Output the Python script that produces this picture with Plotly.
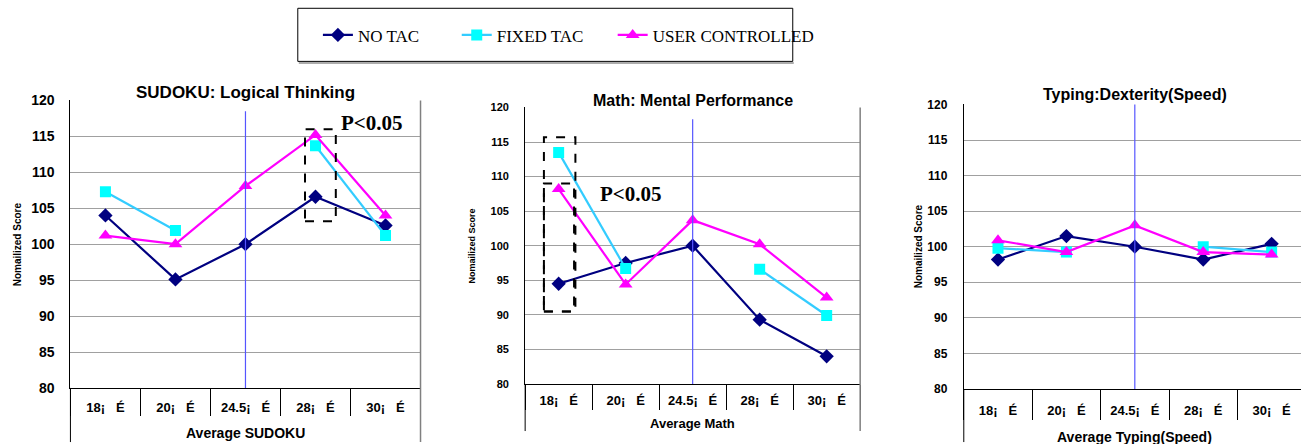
import plotly.graph_objects as go

# photographed picture is 1301x444; measured render mapping: x' = SX*x, y' = SY*(y + OY)
SX, SY, OY = 0.994, 0.963, 8.0
W, H = 1309, 453


def fx(x):
    return (x / SX) / W


def fy(y):
    return 1 - (y / SY - OY) / H


categories = ["18¡\u00a0\u00a0\u00a0É", "20¡\u00a0\u00a0\u00a0É", "24.5¡\u00a0\u00a0\u00a0É", "28¡\u00a0\u00a0\u00a0É", "30¡\u00a0\u00a0\u00a0É"]
series_names = ["NO TAC", "FIXED TAC", "USER CONTROLLED"]

sudoku_no_tac = [104.0, 95.1, 100.0, 106.6, 102.6]
sudoku_fixed = [107.3, 101.9, None, 113.7, 101.2]
sudoku_user = [101.2, 100.0, 108.1, 115.2, 104.0]

math_no_tac = [94.5, 97.5, 100.0, 89.3, 84.0]
math_fixed = [113.5, 96.7, None, 96.6, 89.9]
math_user = [108.2, 94.4, 103.7, 100.2, 92.5]

typing_no_tac = [98.2, 101.5, 100.0, 98.2, 100.4]
typing_fixed = [99.8, 99.25, None, 100.0, 99.25]
typing_user = [100.9, 99.25, 103.0, 99.25, 98.9]

titles = ["SUDOKU: Logical Thinking", "Math: Mental Performance", "Typing:Dexterity(Speed)"]
x_titles = ["Average SUDOKU", "Average Math", "Average Typing(Speed)"]
y_title = "Nomailized Score"

panels = [
    dict(data=[sudoku_no_tac, sudoku_fixed, sudoku_user], left=70, right=418, top=100, bottom=387, bot_ext=441,
         tfs=17, yfs=14, xfs=13, xtfs=14, ytfs=10, title_y=92, xt_y=432, yt_x=17, sig_box=[(2.85, 3.29, 103.2, 116.0)],
         sig_text=(3.8, 116.9), vline=(118.5, 80.0), ticklen=27, standoff=7, ylen=12),
    dict(data=[math_no_tac, math_fixed, math_user], left=522, right=855, top=107, bottom=383, bot_ext=430,
         tfs=16, yfs=11, xfs=13, xtfs=13, ytfs=9, title_y=100, xt_y=422, yt_x=469, sig_box=[(-0.22, 0.25, 90.5, 115.7), (-0.22, 0.23, 90.5, 109.0)],
         sig_text=(1.08, 107.5), vline=(118.3, 80.0), ticklen=25, standoff=4, ylen=13),
    dict(data=[typing_no_tac, typing_fixed, typing_user], left=958, right=1298, top=104, bottom=388, bot_ext=441,
         tfs=16, yfs=12, xfs=13, xtfs=14, ytfs=10, title_y=94, xt_y=436, yt_x=913, sig_box=[],
         sig_text=None, vline=(120.5, 80.0), ticklen=30, standoff=9, ylen=13),
]

colors = ["#000080", "#33CCFF", "#FF00FF"]
marker_colors = ["#000080", "#00FFFF", "#FF00FF"]
symbols = ["diamond", "square", "triangle-up"]
legend_ids = ["legend", "legend2", "legend3"]
legend_x = [316, 454, 609]

fig = go.Figure()
shapes = []
annotations = []

for i, p in enumerate(panels):
    ax = "" if i == 0 else str(i + 1)
    for s in range(3):
        fig.add_trace(go.Scatter(
            x=categories, y=p["data"][s], mode="lines+markers", name=series_names[s],
            xaxis="x" + ax, yaxis="y" + ax, showlegend=(i == 0), legend=legend_ids[s],
            line=dict(color=colors[s], width=2.2),
            marker=dict(symbol=symbols[s], size=11 if s != 2 else 12, color=marker_colors[s]),
            connectgaps=False,
        ))
    xd = [fx(p["left"]), fx(p["right"])]
    yd = [fy(p["bottom"]), fy(p["top"])]
    fig.layout["xaxis" + ax] = dict(
        domain=xd, anchor="y" + ax, type="category", categoryorder="array", categoryarray=categories,
        range=[-0.5, 4.5], showgrid=False, showline=True, linecolor="#000000", linewidth=1,
        ticks="outside", tickson="boundaries", ticklen=p["ticklen"], tickcolor="#000000", tickwidth=1,
        ticklabelstandoff=p["standoff"],
        tickfont=dict(family="Arial, Liberation Sans", size=p["xfs"], color="#000000", weight="bold"),
        fixedrange=True,
    )
    fig.layout["yaxis" + ax] = dict(
        domain=yd, anchor="x" + ax, range=[80, 120], dtick=5, tick0=80,
        showgrid=True, gridcolor="#A0A0A0", gridwidth=1, zeroline=False,
        showline=True, linecolor="#000000", linewidth=1,
        ticks="outside", ticklen=p["ylen"], tickcolor="rgba(0,0,0,0)",
        tickfont=dict(family="Arial, Liberation Sans", size=p["yfs"], color="#000000", weight="bold"),
        fixedrange=True,
    )
    shapes.append(dict(type="line", xref="x" + ax + " domain", yref="paper", x0=1, x1=1,
                       y0=fy(p["top"]), y1=fy(p["bot_ext"]), line=dict(color="#808080", width=1.5)))
    shapes.append(dict(type="line", xref="x" + ax + " domain", yref="paper", x0=0, x1=0,
                       y0=fy(p["bottom"]), y1=fy(p["bot_ext"]), line=dict(color="#000000", width=1)))
    shapes.append(dict(type="line", xref="x" + ax, yref="y" + ax, x0=2, x1=2,
                       y0=p["vline"][0], y1=p["vline"][1], line=dict(color="#5555FF", width=1.2)))
    for (bx0, bx1, by0, by1) in p["sig_box"]:
        shapes.append(dict(type="rect", xref="x" + ax, yref="y" + ax, x0=bx0, x1=bx1, y0=by0, y1=by1,
                           line=dict(color="#000000", width=2, dash="dash")))
    if p["sig_text"]:
        annotations.append(dict(text="<b>P<0.05</b>", xref="x" + ax, yref="y" + ax,
                                x=p["sig_text"][0], y=p["sig_text"][1], showarrow=False,
                                xanchor="center", yanchor="middle",
                                font=dict(family="Liberation Serif, Times New Roman", size=21, color="#000000")))
    cx = fx((p["left"] + p["right"]) / 2)
    annotations.append(dict(text="<b>" + titles[i] + "</b>", xref="paper", yref="paper", x=cx,
                            y=fy(p["title_y"]), showarrow=False, xanchor="center", yanchor="middle",
                            font=dict(family="Arial, Liberation Sans", size=p["tfs"], color="#000000")))
    annotations.append(dict(text="<b>" + x_titles[i] + "</b>", xref="paper", yref="paper", x=cx,
                            y=fy(p["xt_y"]), showarrow=False, xanchor="center", yanchor="middle",
                            font=dict(family="Arial, Liberation Sans", size=p["xtfs"], color="#000000")))
    annotations.append(dict(text="<b>" + y_title + "</b>", xref="paper", yref="paper", x=fx(p["yt_x"]),
                            y=fy((p["top"] + p["bottom"]) / 2), showarrow=False, textangle=-90,
                            xanchor="center", yanchor="middle",
                            font=dict(family="Arial, Liberation Sans", size=p["ytfs"], color="#000000")))

shapes.append(dict(type="rect", xref="paper", yref="paper", x0=fx(296), x1=fx(788),
                   y0=fy(61), y1=fy(8), line=dict(color="#000000", width=1)))
shapes.append(dict(type="line", xref="paper", yref="paper", x0=fx(297), x1=fx(789),
                   y0=fy(62.5), y1=fy(62.5), line=dict(color="#909090", width=1.5)))

legend_font = dict(family="Liberation Serif, Times New Roman", size=17, color="#000000")
leg_common = dict(orientation="h", yanchor="middle", xanchor="left", itemwidth=30,
                  font=legend_font, bgcolor="rgba(0,0,0,0)", borderwidth=0)

fig.update_layout(
    width=W, height=H, margin=dict(l=0, r=0, t=0, b=0),
    paper_bgcolor="#FFFFFF", plot_bgcolor="#FFFFFF",
    shapes=shapes, annotations=annotations,
    legend=dict(x=fx(legend_x[0]), y=fy(35), **leg_common),
    legend2=dict(x=fx(legend_x[1]), y=fy(35), **leg_common),
    legend3=dict(x=fx(legend_x[2]), y=fy(35), **leg_common),
)

post = ("document.body.style.margin='0px';"
        "document.documentElement.style.overflow='hidden';"
        "var gd=document.getElementById('{plot_id}');"
        "gd.style.position='fixed';gd.style.left='0px';gd.style.top='0px';")

fig.write_html("out.html", config={"displayModeBar": False}, post_script=post)
